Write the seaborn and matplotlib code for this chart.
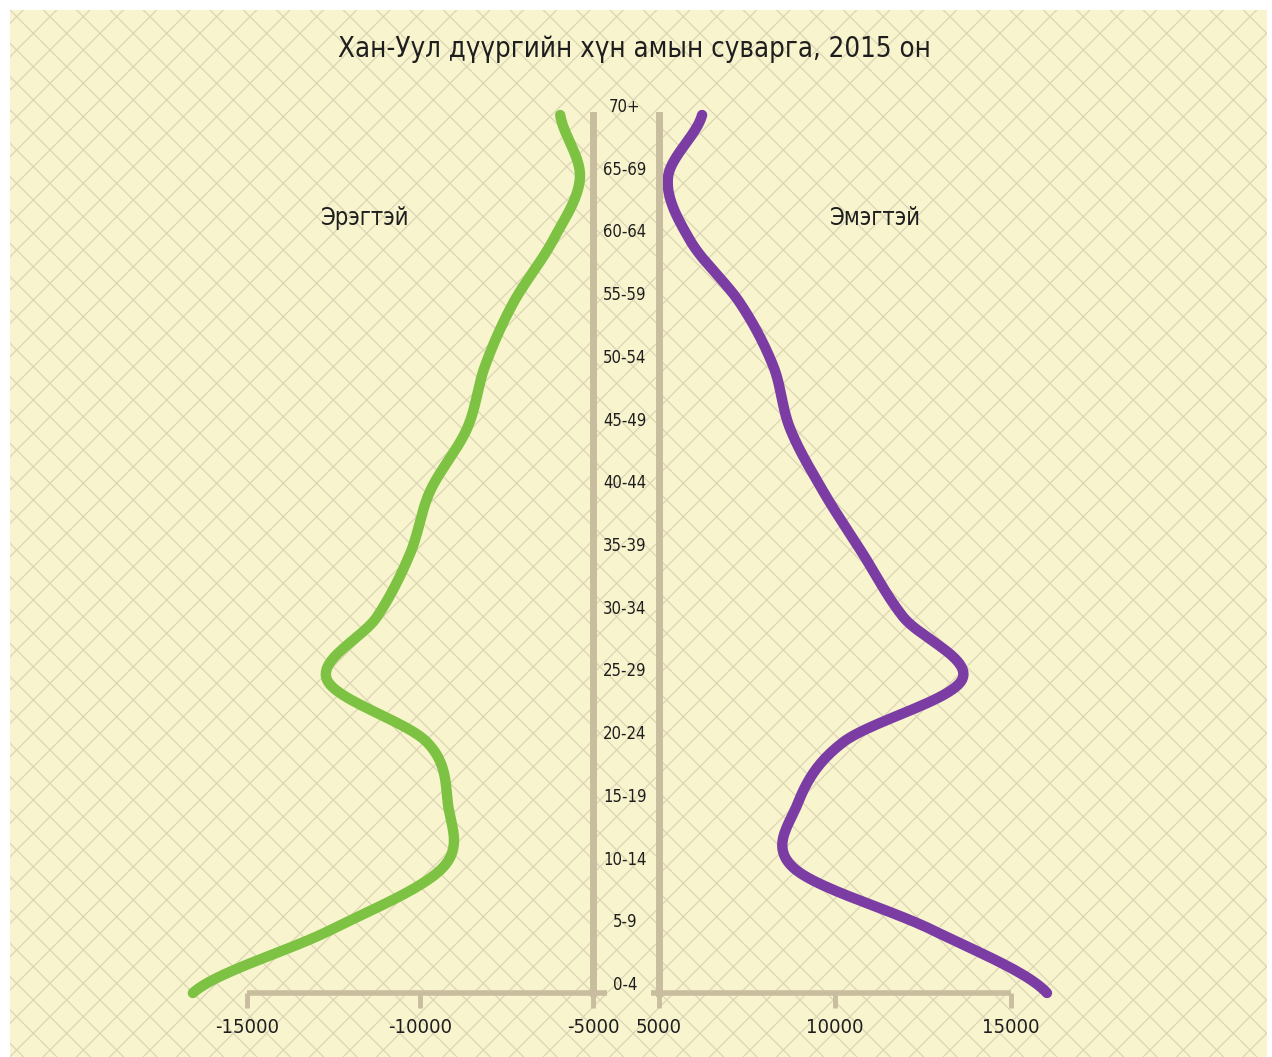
import numpy as np
import pandas as pd
import matplotlib
matplotlib.use('Agg')
import matplotlib.pyplot as plt
import matplotlib.transforms as mtransforms
from matplotlib.patches import Rectangle
import seaborn as sns

# Age groups (bottom to top) and population
age_groups = ['0-4', '5-9', '10-14', '15-19', '20-24', '25-29', '30-34', '35-39',
              '40-44', '45-49', '50-54', '55-59', '60-64', '65-69', '70+']
male = [-16560, -12600, -9340, -9190, -9800, -12690, -11240, -10290,
        -9710, -8640, -8120, -7310, -6160, -5380, -5950]
female = [16030, 12790, 8820, 8930, 10240, 13620, 11940, 10800,
          9670, 8730, 8250, 7310, 5890, 5260, 6230]
male_ticks = [-15000, -10000, -5000]
female_ticks = [5000, 10000, 15000]

title = 'Хан-Уул дүүргийн хүн амын суварга, 2015 он'
male_label = 'Эрэгтэй'
female_label = 'Эмэгтэй'

green = '#7DC242'
purple = '#7B3DA4'
axis_col = '#C9BD9F'
text_col = '#1E1E1E'


def smooth(values, steps=24):
    # Catmull-Rom curve through the points, like a smoothed spreadsheet line
    v = np.asarray(values, dtype=float)
    n = len(v)
    p = np.concatenate([[v[0]], v, [v[-1]]])
    xs, ys = [], []
    t = np.linspace(0, 1, steps, endpoint=False)
    for i in range(n - 1):
        p0, p1, p2, p3 = p[i], p[i + 1], p[i + 2], p[i + 3]
        xs.append(0.5 * (2 * p1 + (-p0 + p2) * t
                         + (2 * p0 - 5 * p1 + 4 * p2 - p3) * t ** 2
                         + (-p0 + 3 * p1 - 3 * p2 + p3) * t ** 3))
        ys.append(i + t)
    xs.append([v[-1]])
    ys.append([n - 1])
    return np.concatenate(xs), np.concatenate(ys)


sns.set_theme(style='white')
plt.rcParams['font.family'] = ['DejaVu Sans']
plt.rcParams['font.stretch'] = 'condensed'
plt.rcParams['hatch.linewidth'] = 0.9

fig = plt.figure(figsize=(12.72, 10.57), dpi=100, facecolor='white')

# patterned yellow backdrop
bg = Rectangle((10 / 1272, 0), 1257 / 1272, 1047 / 1057, transform=fig.transFigure,
               facecolor='#F8F4CE', edgecolor='#DCD6B4', hatch='x', linewidth=0, zorder=-10)
fig.add_artist(bg)

ax_m = fig.add_axes([160 / 1272, 1 - 993 / 1057, 440 / 1272, 878 / 1057])
ax_f = fig.add_axes([650 / 1272, 1 - 993 / 1057, 410 / 1272, 878 / 1057])

mx, my = smooth(male)
fx, fy = smooth(female)
df_m = pd.DataFrame({'value': mx, 'pos': my})
df_f = pd.DataFrame({'value': fx, 'pos': fy})

sns.lineplot(data=df_m, x='value', y='pos', sort=False, estimator=None, ax=ax_m,
             color=green, linewidth=7.5, solid_capstyle='round', clip_on=False)
sns.lineplot(data=df_f, x='value', y='pos', sort=False, estimator=None, ax=ax_f,
             color=purple, linewidth=7.5, solid_capstyle='round', clip_on=False)

ax_m.set_xlim(-17510, -4800)
ax_f.set_xlim(4750, 16400)

for ax, ticks in ((ax_m, male_ticks), (ax_f, female_ticks)):
    ax.set_facecolor('none')
    ax.set_ylim(0, len(age_groups) - 1)
    ax.set_yticks([])
    ax.set_xticks(ticks)
    ax.set_xticklabels([str(t) for t in ticks])
    ax.set_xlabel('')
    ax.set_ylabel('')
    ax.tick_params(axis='x', bottom=True, direction='out', length=11, width=3.5,
                   color=axis_col, labelsize=14.5, labelcolor=text_col, pad=7)
    ax.spines['top'].set_visible(False)
    ax.spines['bottom'].set_color(axis_col)
    ax.spines['bottom'].set_linewidth(4)
    ax.spines['bottom'].set_capstyle('butt')

# vertical centre lines
ax_m.spines['left'].set_visible(False)
ax_m.spines['right'].set_position(('data', -5000))
ax_m.spines['right'].set_bounds(0, len(age_groups) - 1)
ax_m.spines['right'].set_color(axis_col)
ax_m.spines['right'].set_linewidth(5)
ax_m.spines['bottom'].set_bounds(-15000, -4600)

ax_f.spines['right'].set_visible(False)
ax_f.spines['left'].set_position(('data', 5000))
ax_f.spines['left'].set_bounds(0, len(age_groups) - 1)
ax_f.spines['left'].set_color(axis_col)
ax_f.spines['left'].set_linewidth(5)
ax_f.spines['bottom'].set_bounds(4780, 15000)

# age group labels between the two halves
trans = mtransforms.blended_transform_factory(fig.transFigure, ax_m.transData)
trans = mtransforms.offset_copy(trans, fig=fig, y=8, units='dots')
for i, name in enumerate(age_groups):
    fig.text(625 / 1272, i, name, transform=trans, ha='center', va='center',
             fontsize=12, color=text_col)

fig.text(365 / 1272, 1 - 218 / 1057, male_label, ha='center', va='center',
         fontsize=17, color=text_col)
fig.text(875 / 1272, 1 - 218 / 1057, female_label, ha='center', va='center',
         fontsize=17, color=text_col)
fig.text(634 / 1272, 1 - 49 / 1057, title, ha='center', va='center',
         fontsize=19.8, color=text_col)

fig.savefig('out.png', dpi=100, facecolor=fig.get_facecolor())
